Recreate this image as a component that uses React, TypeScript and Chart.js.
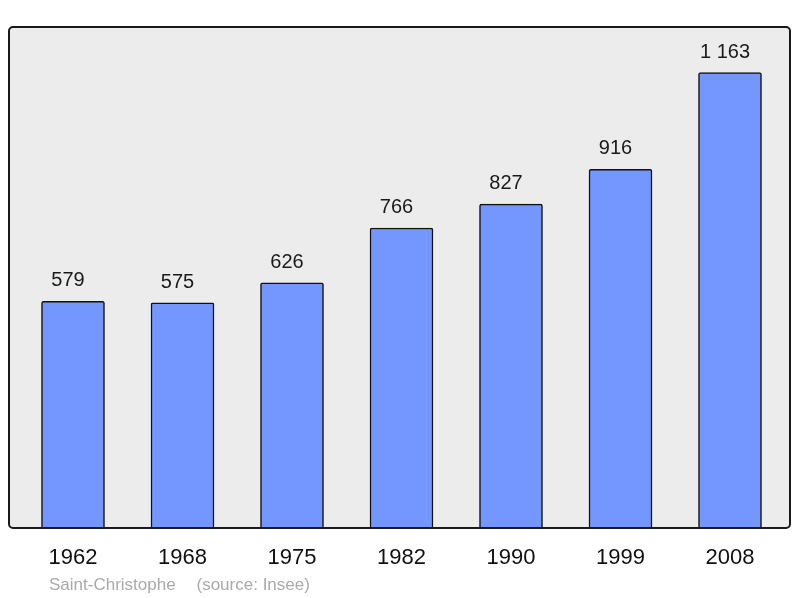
import React, { useEffect, useRef } from "react";
import { Chart, registerables } from "chart.js";

Chart.register(...registerables);

const years: string[] = ["1962", "1968", "1975", "1982", "1990", "1999", "2008"];
const population: number[] = [579, 575, 626, 766, 827, 916, 1163];
const placeName = "Saint-Christophe";
const sourceText = "(source: Insee)";

const fmt = (v: number) => String(v).replace(/\B(?=(\d{3})+(?!\d))/g, " ");

const framePlugin = {
  id: "frame",
  beforeDraw(chart: any) {
    const { ctx, chartArea } = chart;
    const l = chartArea.left - 9.25, r = chartArea.right + 5.25;
    const t = chartArea.top, b = chartArea.bottom;
    ctx.save();
    ctx.beginPath();
    ctx.roundRect(l, t, r - l, b - t, 4);
    ctx.fillStyle = "#ececec";
    ctx.fill();
    ctx.restore();
  },
  afterDatasetsDraw(chart: any) {
    const { ctx, chartArea } = chart;
    const l = chartArea.left - 9.25, r = chartArea.right + 5.25;
    const t = chartArea.top, b = chartArea.bottom;
    ctx.save();
    ctx.beginPath();
    ctx.roundRect(l, t, r - l, b - t, 4);
    ctx.lineWidth = 2;
    ctx.strokeStyle = "#1a1a1a";
    ctx.stroke();
    // value labels
    const meta = chart.getDatasetMeta(0);
    ctx.fillStyle = "#1a1a1a";
    ctx.font = "20px 'Liberation Sans', Arial, sans-serif";
    ctx.textAlign = "center";
    ctx.textBaseline = "alphabetic";
    meta.data.forEach((bar: any, i: number) => {
      ctx.fillText(fmt(population[i]), bar.x - 5, bar.y - 15);
    });
    // source line
    ctx.fillStyle = "#aaaaaa";
    ctx.font = "17px 'Liberation Sans', Arial, sans-serif";
    ctx.textAlign = "left";
    ctx.fillText(placeName, l + 40, 590);
    ctx.fillText(sourceText, l + 187.5, 590);
    ctx.restore();
  },
};

export default function App() {
  const ref = useRef<HTMLCanvasElement>(null);
  useEffect(() => {
    if (!ref.current) return;
    const chart = new Chart(ref.current, {
      type: "bar",
      data: {
        labels: years,
        datasets: [
          {
            data: population,
            backgroundColor: "#7396ff",
            borderColor: "#111111",
            borderWidth: 1.5,
            borderRadius: 2,
            borderSkipped: "bottom",
            barThickness: 63,
          },
        ],
      },
      options: {
        responsive: false,
        animation: false,
        layout: { padding: { left: 18.25, right: 15.25, top: 27, bottom: 0 } },
        plugins: { legend: { display: false }, tooltip: { enabled: false }, title: { display: false } },
        scales: {
          x: {
            offset: true,
            grid: { display: false },
            border: { display: false },
            ticks: {
              color: "#111",
              padding: 9,
              font: { family: "'Liberation Sans', Arial, sans-serif", size: 22 },
              maxRotation: 0,
            },
            afterFit: (s: any) => {
              s.height = 70;
            },
          },
          y: {
            display: false,
            min: 0,
            max: 1163 * 1.1,
          },
        },
      },
      plugins: [framePlugin],
    });
    return () => chart.destroy();
  }, []);
  return (
    <div style={{ position: "fixed", left: 0, top: 0, width: 800, height: 598 }}>
      <canvas ref={ref} width={800} height={598} />
    </div>
  );
}
